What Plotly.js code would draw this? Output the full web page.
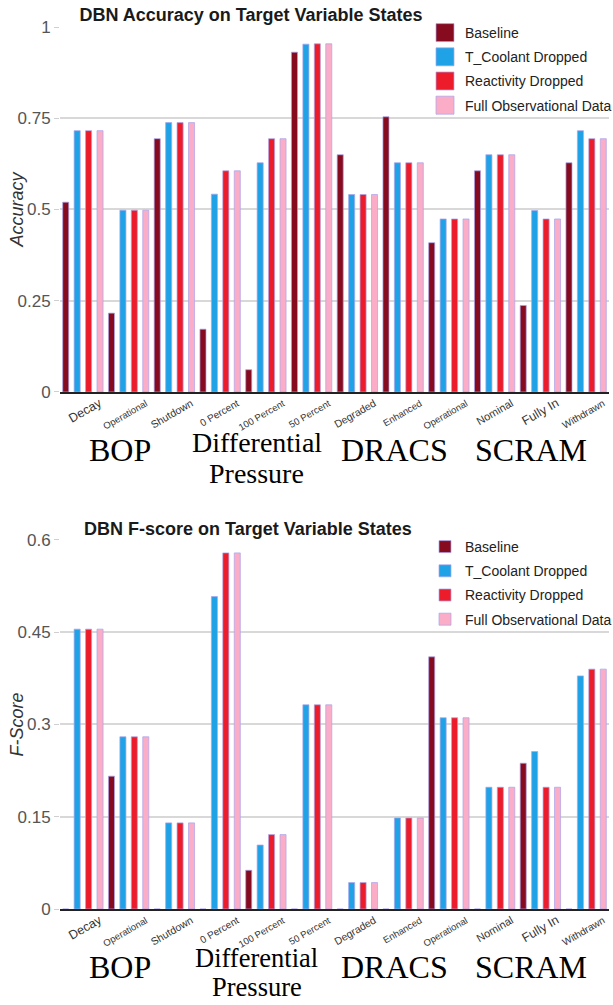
<!DOCTYPE html>
<html><head><meta charset="utf-8">
<script src="https://cdn.plot.ly/plotly-3.0.1.min.js"></script>
<style>html,body{margin:0;padding:0;background:#fff}#chart{width:613px;height:1005px}</style>
</head><body><div id="chart"></div>
<script>
// ---------- data ----------
const states = ['Decay','Operational','Shutdown','0 Percent','100 Percent','50 Percent','Degraded','Enhanced','Operational','Nominal','Fully In','Withdrawn'];
const stateGroups = ['BOP','BOP','BOP','Differential Pressure','Differential Pressure','Differential Pressure','DRACS','DRACS','DRACS','SCRAM','SCRAM','SCRAM'];
const seriesNames = ['Baseline','T_Coolant Dropped','Reactivity Dropped','Full Observational Data'];

const accBaseline    = [0.520,0.216,0.694,0.172,0.061,0.931,0.650,0.754,0.409,0.606,0.237,0.628];
const accTCoolant    = [0.716,0.498,0.738,0.542,0.628,0.953,0.541,0.628,0.474,0.650,0.497,0.716];
const accReactivity  = [0.716,0.498,0.738,0.606,0.694,0.954,0.541,0.628,0.474,0.650,0.474,0.694];
const accFull        = [0.716,0.498,0.738,0.606,0.694,0.954,0.541,0.628,0.474,0.650,0.474,0.694];

const fBaseline      = [0,0.216,0,0,0.063,0,0,0,0.410,0,0.237,0];
const fTCoolant      = [0.455,0.280,0.140,0.508,0.104,0.332,0.043,0.148,0.311,0.198,0.256,0.379];
const fReactivity    = [0.455,0.280,0.140,0.579,0.121,0.332,0.043,0.148,0.311,0.198,0.198,0.390];
const fFull          = [0.455,0.280,0.140,0.579,0.121,0.332,0.043,0.148,0.311,0.198,0.198,0.390];

const accTitle = 'DBN Accuracy on Target Variable States';
const fTitle = 'DBN F-score on Target Variable States';
const accAxisTitle = 'Accuracy';
const fAxisTitle = 'F-Score';

// ---------- style ----------
const colors = ['#860b1f','#1fa3e6','#ec1c2b','#fbadc8'];
const tickSizes = [12.5,9.5,10.5,10,9.5,9.5,10.5,9.5,9.5,11,12.5,10];
const FONT = 'Liberation Sans, Arial, Helvetica, sans-serif';
const SERIF = 'Liberation Serif, Times New Roman, serif';

const idx = states.map((_, i) => i);
const tickText = states.map((s, i) => '<span style="font-size:' + tickSizes[i] + 'px">' + s + '</span>');

function mk(vals, k, xa, ya, leg) {
  return {
    type: 'bar', x: idx, y: vals, name: seriesNames[k],
    xaxis: xa, yaxis: ya, legend: leg, legendgroup: leg + k,
    marker: {color: colors[k], line: {color: 'rgba(170,165,235,0.9)', width: 0.8}},
    hoverinfo: 'skip'
  };
}
const accSeries = [accBaseline, accTCoolant, accReactivity, accFull];
const fSeries = [fBaseline, fTCoolant, fReactivity, fFull];
const traces = [];
accSeries.forEach((v, k) => traces.push(mk(v, k, 'x', 'y', 'legend')));
fSeries.forEach((v, k) => traces.push(mk(v, k, 'x2', 'y2', 'legend2')));

function xax(anchor) {
  return {
    anchor: anchor, range: [-0.5, states.length - 0.5], automargin: false,
    tickmode: 'array', tickvals: idx, ticktext: tickText,
    tickangle: -30, ticklabelshift: 17, ticklabelstandoff: 0,
    tickfont: {family: FONT, size: 10, color: '#333'},
    showgrid: false, zeroline: false, showline: true, linecolor: '#222', linewidth: 2, ticks: ''
  };
}
function yax(domain, range, dtick, anchor) {
  return {
    anchor: anchor, domain: domain, range: range, tick0: 0, dtick: dtick, automargin: false,
    showgrid: true, gridcolor: '#d8d8d8', gridwidth: 1.5, zeroline: false,
    ticks: 'outside', ticklen: 5, tickcolor: '#cfcfcf',
    tickfont: {family: FONT, size: 17, color: '#555'}
  };
}

// group labels
const groupNames = [...new Set(stateGroups)];
const annotations = [];
function addGroupLabels(xref, yref, firstShift, lineGap, multiSize) {
  groupNames.forEach(g => {
    const members = idx.filter(i => stateGroups[i] === g);
    const c = members.reduce((a, b) => a + b, 0) / members.length;
    const lines = g.split(' ');
    lines.forEach((ln, j) => {
      const multi = lines.length > 1;
      annotations.push({
        xref: xref, yref: yref + ' domain', x: c, y: 0, xanchor: 'center', yanchor: 'middle',
        xshift: -9, yshift: multi ? -(firstShift + j * lineGap) : -58,
        text: ln, showarrow: false,
        font: {family: SERIF, size: multi ? multiSize : 32, color: '#000'}
      });
    });
  });
}
addGroupLabels('x', 'y', 51, 31, 28);
addGroupLabels('x2', 'y2', 49, 29, 26.5);

// axis titles
[[accAxisTitle, 'y'], [fAxisTitle, 'y2']].forEach(([t, ya]) => {
  annotations.push({
    xref: 'paper', yref: ya + ' domain', x: 0, y: 0.5, xanchor: 'center', yanchor: 'middle',
    xshift: -43, textangle: -90, text: t, showarrow: false,
    font: {family: FONT, size: 18, color: '#333', style: 'italic'}
  });
});

// second chart title
annotations.push({
  xref: 'paper', yref: 'paper', x: (248 - 60) / 549, y: 1 - (529 - 27) / 882, xanchor: 'center', yanchor: 'middle',
  text: '<b>' + fTitle + '</b>', showarrow: false, font: {family: FONT, size: 18, color: '#1a1a1a'}
});

// legends sit over the top gridline of each chart (hide that gridline behind them)
const shapes = ['y', 'y2'].map(ya => ({
  type: 'rect', layer: 'between', xref: 'paper', yref: ya + ' domain',
  x0: (436 - 60) / 549, x1: 1.02, y0: 0.985, y1: 1.02,
  fillcolor: '#ffffff', line: {width: 0}
}));

const legendStyle = {
  xref: 'container', yref: 'container', xanchor: 'left', yanchor: 'top', bgcolor: 'rgba(0,0,0,0)',
  font: {family: FONT, size: 14, color: '#222'}, tracegroupgap: 3, itemclick: false, itemdoubleclick: false
};

const layout = {
  width: 613, height: 1005,
  margin: {l: 60, r: 4, t: 27, b: 96, autoexpand: false},
  paper_bgcolor: '#fff', plot_bgcolor: '#fff',
  barmode: 'group', bargap: 0, bargroupgap: 0.47,
  title: {text: '<b>' + accTitle + '</b>', x: 251 / 613, xref: 'container', xanchor: 'center',
          y: 1 - 15 / 1005, yref: 'container', yanchor: 'middle', font: {family: FONT, size: 18, color: '#1a1a1a'}},
  xaxis: xax('y'),
  xaxis2: xax('y2'),
  yaxis: yax([0.5862, 1], [0, 1], 0.25, 'x'),
  yaxis2: yax([0, 0.4184], [0, 0.6], 0.15, 'x2'),
  legend: Object.assign({x: 425 / 613, y: 1 - 17 / 1005}, legendStyle),
  legend2: Object.assign({x: 425 / 613, y: 1 - 531 / 1005}, legendStyle),
  annotations: annotations,
  shapes: shapes,
  showlegend: true
};

function bigSwatches() {
  document.querySelectorAll('.legend .legendpoints path').forEach(p => {
    p.setAttribute('d', 'M9,9H-9V-9H9Z');
  });
}
Plotly.newPlot('chart', traces, layout, {displayModeBar: false}).then(() => {
  bigSwatches();
  setTimeout(bigSwatches, 0);
});
</script>
</body></html>
